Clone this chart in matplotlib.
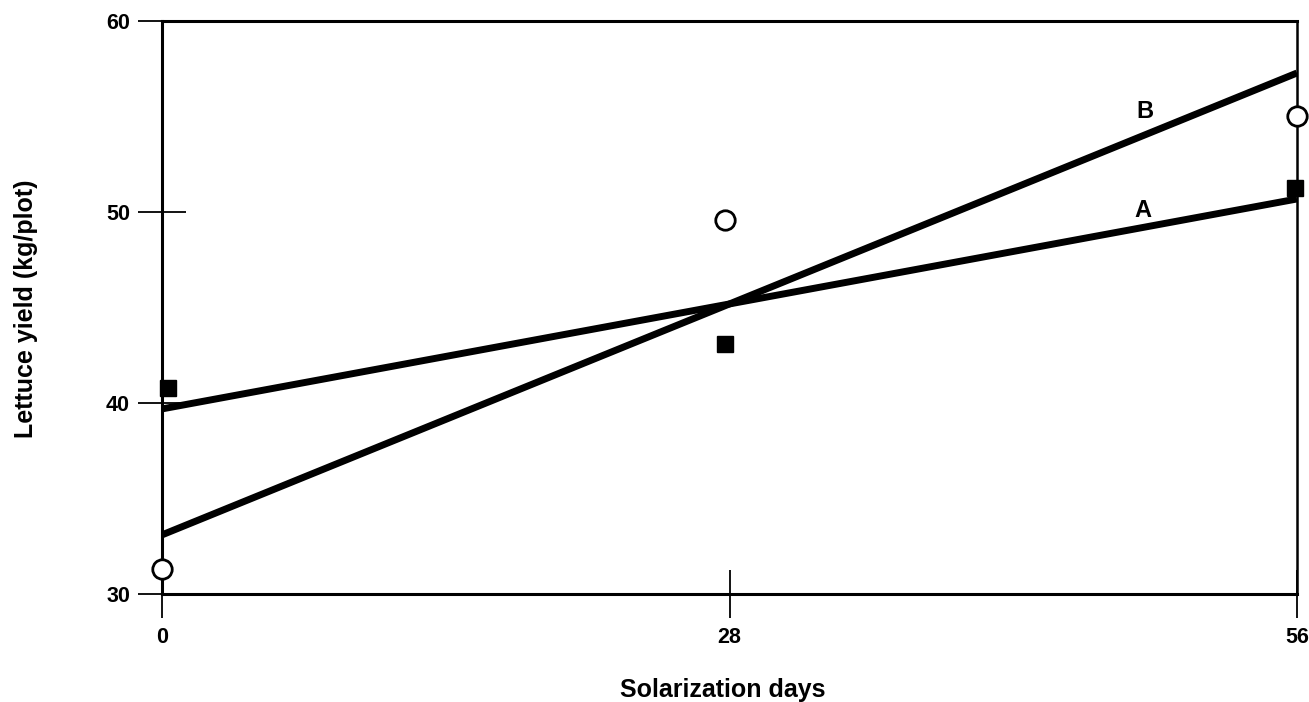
import matplotlib
matplotlib.use("Agg")
import matplotlib.pyplot as plt

plt.rcParams['font.family'] = ['Liberation Sans', 'DejaVu Sans']
plt.rcParams['font.weight'] = 'bold'

# observed yields
days_open = [0, 27.8, 56]
yield_open = [31.3, 49.6, 55.05]
days_filled = [0.3, 27.8, 55.9]
yield_filled = [40.8, 43.1, 51.3]

# fitted lines (end points)
line_days = [0, 56]
line_a = [39.7, 50.7]
line_b = [33.1, 57.3]

xticks = [0, 28, 56]
yticks = [30, 40, 50, 60]

fig = plt.figure(figsize=(13.09, 7.02), dpi=100)
ax = fig.add_axes([0.1238, 0.1538, 0.8670, 0.8156])

ax.plot(line_days, line_a, color='black', lw=5, solid_capstyle='butt', zorder=2)
ax.plot(line_days, line_b, color='black', lw=5, solid_capstyle='butt', zorder=2)

ax.plot(days_open, yield_open, 'o', ms=14, mfc='white', mec='black', mew=2.0,
        ls='none', zorder=3, clip_on=False)
ax.plot(days_filled, yield_filled, 's', ms=12, mfc='black', mec='black',
        ls='none', zorder=3, clip_on=False)

ax.text(48.5, 55.3, 'B', fontsize=17, fontweight='bold', ha='center', va='center')
ax.text(48.4, 50.1, 'A', fontsize=17, fontweight='bold', ha='center', va='center')

ax.set_xlim(0, 56)
ax.set_ylim(30, 60)
ax.set_xticks(xticks)
ax.set_yticks(yticks)
ax.set_xticklabels([str(t) for t in xticks], fontsize=15.5, fontweight='bold')
ax.set_yticklabels([str(t) for t in yticks], fontsize=15.5, fontweight='bold')

ax.tick_params(axis='x', direction='inout', length=34, width=1.3, pad=7)
ax.tick_params(axis='y', direction='inout', length=34, width=1.3, pad=6)

for side in ['left', 'bottom', 'top']:
    ax.spines[side].set_linewidth(2.2)
ax.spines['right'].set_linewidth(1.8)

ax.set_xlabel('Solarization days', fontsize=18, fontweight='bold')
ax.xaxis.set_label_coords(0.494, -0.146)
ax.set_ylabel('Lettuce yield (kg/plot)', fontsize=18, fontweight='bold')
ax.yaxis.set_label_coords(-0.109, 0.498)

fig.savefig('out.png', dpi=100)
